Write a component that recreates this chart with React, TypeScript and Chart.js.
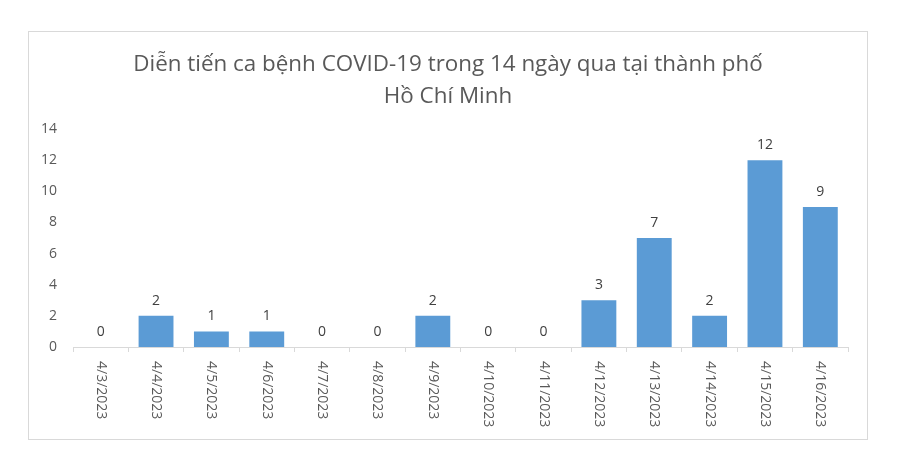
import { useEffect, useRef } from "react"
import { Chart, registerables } from "chart.js"

Chart.register(...registerables)

const categories = [
  "4/3/2023", "4/4/2023", "4/5/2023", "4/6/2023", "4/7/2023", "4/8/2023", "4/9/2023",
  "4/10/2023", "4/11/2023", "4/12/2023", "4/13/2023", "4/14/2023", "4/15/2023", "4/16/2023",
]
const cases = [0, 2, 1, 1, 0, 0, 2, 0, 0, 3, 7, 2, 12, 9]
const titleLines = ["Diễn tiến ca bệnh COVID-19 trong 14 ngày qua tại thành phố", "Hồ Chí Minh"]

const FONT = "'Open Sans', sans-serif"
const GRAY = "#595959"

// nhãn trục x xoay 90° theo chiều kim đồng hồ (đọc từ trên xuống)
const rotatedLabels = {
  id: "rotatedLabels",
  afterDraw(chart: Chart) {
    const x = chart.scales.x
    const ctx = chart.ctx
    ctx.save()
    ctx.font = `14px ${FONT}`
    ctx.fillStyle = GRAY
    ctx.textAlign = "left"
    ctx.textBaseline = "middle"
    categories.forEach((label, i) => {
      ctx.save()
      ctx.translate(x.getPixelForValue(i), x.top + 14)
      ctx.rotate(Math.PI / 2)
      ctx.fillText(label, 0, 0)
      ctx.restore()
    })
    ctx.restore()
  },
}

// số liệu phía trên mỗi cột
const valueLabels = {
  id: "valueLabels",
  afterDatasetsDraw(chart: Chart) {
    const meta = chart.getDatasetMeta(0)
    const ctx = chart.ctx
    ctx.save()
    ctx.font = `14px ${FONT}`
    ctx.fillStyle = "#404040"
    ctx.textAlign = "center"
    ctx.textBaseline = "alphabetic"
    meta.data.forEach((bar, i) => {
      ctx.fillText(String(cases[i]), bar.x, bar.y - 11)
    })
    ctx.restore()
  },
}

export default function App() {
  const chartRef = useRef<HTMLCanvasElement>(null)

  useEffect(() => {
    if (!chartRef.current) return
    const chart = new Chart(chartRef.current, {
      type: "bar",
      data: {
        labels: categories,
        datasets: [
          {
            data: cases,
            backgroundColor: "#5b9bd5",
            categoryPercentage: 1,
            barPercentage: 0.63,
          },
        ],
      },
      options: {
        responsive: true,
        maintainAspectRatio: false,
        animation: false,
        layout: { padding: 0 },
        plugins: {
          legend: { display: false },
          tooltip: { enabled: false },
          title: {
            display: true,
            text: titleLines,
            color: GRAY,
            font: { family: FONT, size: 22.4, weight: "normal", lineHeight: 1.43 },
            padding: { top: 17, bottom: 16 },
          },
        },
        scales: {
          x: {
            ticks: { display: false },
            grid: {
              offset: true,
              drawOnChartArea: false,
              drawTicks: true,
              tickLength: 5,
              color: "#d9d9d9",
            },
            border: { display: true, color: "#d9d9d9" },
            afterFit: (scale) => {
              scale.height = 92
            },
          },
          y: {
            min: 0,
            max: 14,
            ticks: {
              stepSize: 2,
              color: GRAY,
              padding: 16,
              font: { family: FONT, size: 14 },
            },
            grid: { display: false, drawTicks: false },
            border: { display: false },
            afterFit: (scale) => {
              scale.width = 44
            },
          },
          // trục phụ vô hình chỉ để chừa lề phải, tiêu đề vẫn căn giữa khung
          spacer: {
            position: "right",
            ticks: { display: false },
            grid: { display: false, drawTicks: false },
            border: { display: false },
            afterFit: (scale) => {
              scale.width = 19
            },
          },
        },
      },
      plugins: [rotatedLabels, valueLabels],
    })
    return () => chart.destroy()
  }, [])

  return (
    <div style={{ position: "fixed", left: 0, top: 0, width: 900, height: 472, background: "#fff" }}>
      <div
        style={{
          position: "absolute",
          left: 28,
          top: 31,
          width: 840,
          height: 409,
          boxSizing: "border-box",
          border: "1px solid #d9d9d9",
        }}
      >
        <canvas ref={chartRef} />
      </div>
    </div>
  )
}
